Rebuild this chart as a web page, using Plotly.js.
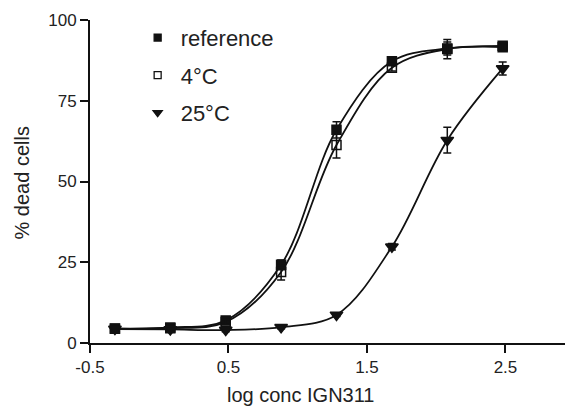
<!DOCTYPE html>
<html>
<head>
<meta charset="utf-8">
<script src="https://cdn.plot.ly/plotly-3.0.1.min.js"></script>
<style>html,body{margin:0;padding:0;background:#fff;}#chart{width:565px;height:412px;}</style>
</head>
<body>
<div id="chart"></div>
<script>
// log concentration of IGN311
var logConc = [-0.32, 0.08, 0.48, 0.88, 1.28, 1.68, 2.08, 2.48];

// % dead cells (mean) and error (SEM)
var refValues  = [4.5, 4.8, 7.0, 24.2, 66.0, 87.2, 91.2, 92.0];
var refErrors  = [0.5, 0.5, 0.8, 1.5, 2.5, 1.0, 2.0, 1.0];

var c4Values   = [4.4, 4.6, 6.5, 22.0, 61.3, 85.2, 91.0, 91.6];
var c4Errors   = [0.5, 0.5, 0.8, 2.5, 4.0, 1.0, 3.0, 1.0];

var c25Values  = [4.3, 4.2, 4.0, 4.9, 8.7, 29.8, 62.8, 85.0];
var c25Errors  = [0.3, 0.3, 0.5, 0.5, 0.5, 1.0, 4.0, 2.0];

var seriesNames = ['reference', '4°C', '25°C'];
var xTicks = [-0.5, 0.5, 1.5, 2.5];
var xTickLabels = ['-0.5', '0.5', '1.5', '2.5'];
var yTicks = [0, 25, 50, 75, 100];
var xTitle = 'log conc IGN311';
var yTitle = '% dead cells';

var series = [
  {name: seriesNames[0], y: refValues, err: refErrors, symbol: 'square', size: 9, lsize: 7},
  {name: seriesNames[1], y: c4Values, err: c4Errors, symbol: 'square-open', size: 9, lsize: 7},
  {name: seriesNames[2], y: c25Values, err: c25Errors, symbol: 'triangle-down', size: 11, lsize: 8}
];

var traces = [];
series.forEach(function (s) {
  traces.push({
    x: logConc, y: s.y, type: 'scatter', mode: 'lines',
    line: {shape: 'spline', smoothing: 1.0, color: '#111', width: 1.8},
    showlegend: false, hoverinfo: 'skip', cliponaxis: false
  });
});
series.forEach(function (s) {
  traces.push({
    x: logConc, y: s.y, type: 'scatter', mode: 'markers', name: s.name,
    showlegend: false,
    marker: {symbol: s.symbol, size: s.size, color: '#111', line: {color: '#111', width: 1.5}},
    error_y: {type: 'data', array: s.err, visible: true, color: '#111', thickness: 1.5, width: 4},
    cliponaxis: false
  });
});
// legend entries (symbols only, smaller as in the original key)
series.forEach(function (s, i) {
  traces.push({
    x: [null], y: [null], type: 'scatter', mode: 'markers', name: s.name,
    legendgroup: 'g' + i, showlegend: true,
    marker: {symbol: s.symbol, size: s.lsize, color: '#111', line: {color: '#111', width: 1.3}}
  });
});

var layout = {
  width: 565, height: 412,
  margin: {l: 90, r: 0, t: 20, b: 69},
  paper_bgcolor: '#fff', plot_bgcolor: '#fff',
  font: {family: 'Liberation Sans, Arial, sans-serif', size: 17, color: '#222'},
  showlegend: true,
  legend: {x: 0.094, y: 1.01, xanchor: 'left', yanchor: 'top', bgcolor: 'rgba(0,0,0,0)',
           font: {size: 22, color: '#222'}, traceorder: 'grouped', tracegroupgap: 6,
           itemwidth: 36},
  xaxis: {
    range: [-0.5, 2.93], tickvals: xTicks, ticktext: xTickLabels,
    showline: true, linecolor: '#111', linewidth: 2,
    ticks: 'outside', ticklen: 8, tickwidth: 2, tickcolor: '#111',
    showgrid: false, zeroline: false
  },
  yaxis: {
    range: [0, 100], tickvals: yTicks,
    showline: true, linecolor: '#111', linewidth: 2,
    ticks: 'outside', ticklen: 8, tickwidth: 2, tickcolor: '#111',
    showgrid: false, zeroline: false
  },
  annotations: [
    {text: xTitle, xref: 'paper', yref: 'paper', x: 0.444, y: -0.161,
     xanchor: 'center', yanchor: 'middle', showarrow: false, font: {size: 20, color: '#222'}},
    {text: yTitle, xref: 'paper', yref: 'paper', x: -0.143, y: 0.494, textangle: -90,
     xanchor: 'center', yanchor: 'middle', showarrow: false, font: {size: 20, color: '#222'}}
  ]
};

Plotly.newPlot('chart', traces, layout, {displayModeBar: false, staticPlot: true});
</script>
</body>
</html>
